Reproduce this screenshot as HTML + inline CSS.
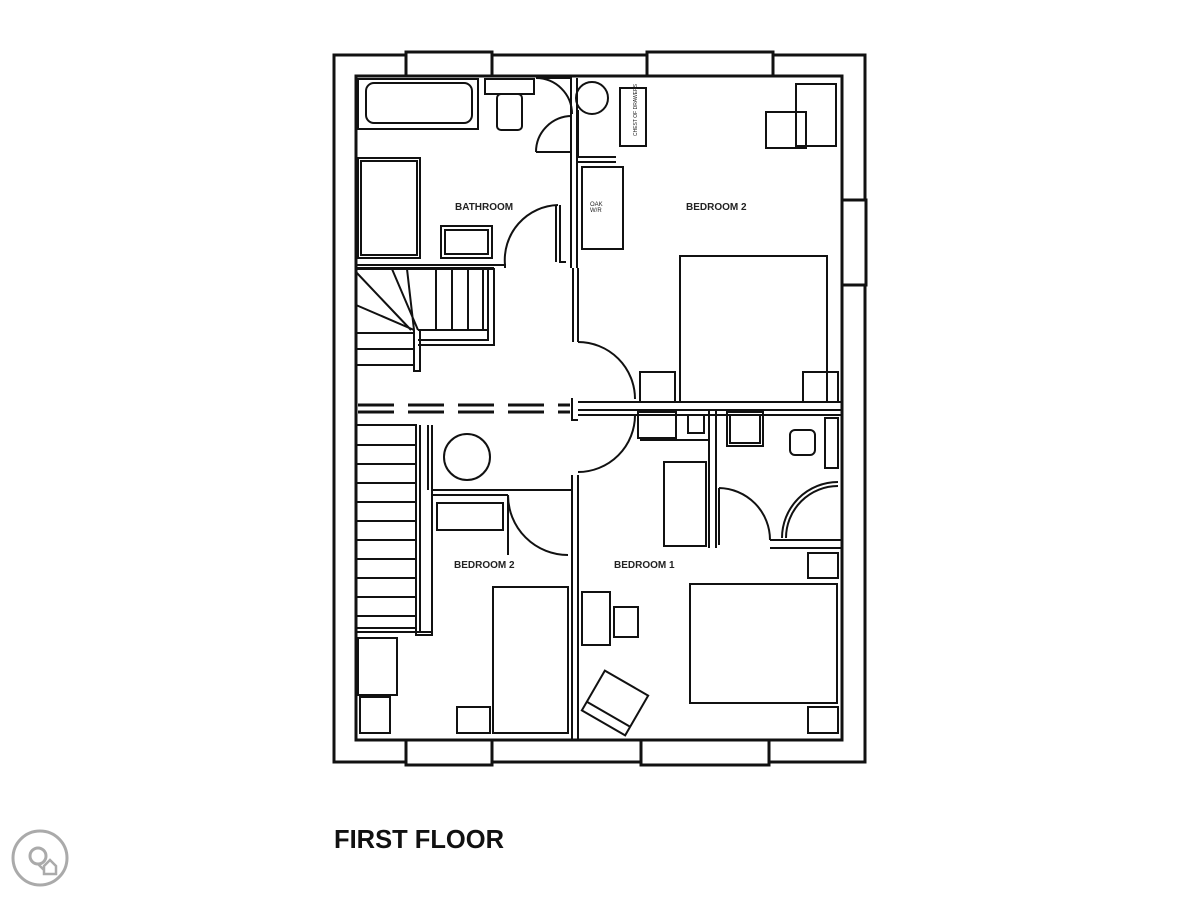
<!DOCTYPE html>
<html><head><style>body{margin:0;background:#fff}svg{display:block}</style></head><body>
<svg width="1200" height="900" viewBox="0 0 1200 900" xmlns="http://www.w3.org/2000/svg">
<rect width="1200" height="900" fill="#fff"/>
<g fill="none" stroke="#111" stroke-width="2">
<rect x="334" y="55" width="531" height="707" stroke-width="3"/>
<rect x="356" y="76" width="486" height="664" stroke-width="3"/>
<rect x="406" y="52" width="86" height="24" fill="#fff" stroke-width="3"/>
<rect x="647" y="52" width="126" height="24" fill="#fff" stroke-width="3"/>
<rect x="406" y="740" width="86" height="25" fill="#fff" stroke-width="3"/>
<rect x="641" y="740" width="128" height="25" fill="#fff" stroke-width="3"/>
<rect x="842" y="200" width="24" height="85" fill="#fff" stroke-width="3"/>
<path d="M571 78V268 M577 78V268 M573 268V342 M578 268V342"/>
<path d="M578 110V157H616 M577 157V162H616"/>
<circle cx="592" cy="98" r="16"/>
<rect x="620" y="88" width="26" height="58"/>
<path d="M536 78A36 36 0 0 1 572 114 M536 152A36 36 0 0 1 572 116 M536 152H572 M536 78H572"/>
<rect x="796" y="84" width="40" height="62"/>
<rect x="766" y="112" width="40" height="36"/>
<rect x="582" y="167" width="41" height="82"/>
<rect x="680" y="256" width="147" height="146"/>
<rect x="640" y="372" width="35" height="30"/>
<rect x="803" y="372" width="35" height="30"/>
<rect x="358" y="79" width="120" height="50"/>
<rect x="366" y="83" width="106" height="40" rx="8"/>
<rect x="485" y="79" width="49" height="15"/>
<rect x="497" y="94" width="25" height="36" rx="4"/>
<rect x="358" y="158" width="62" height="100"/><rect x="361" y="161" width="56" height="94"/>
<rect x="441" y="226" width="51" height="32"/><rect x="445" y="230" width="43" height="24"/>
<path d="M356 265H505V268 M356 268H494"/>
<path d="M560 205V262H566 M556 205V262 M505 265A55 55 0 0 1 558 205"/>
<path d="M356 269H494V345H418 M488 269V340H418 M418 330H488 M356 272L411 330 M392 269L418 330 M407 269L414 330 M356 305L414 330 M356 333H414 M356 349H414 M356 365H414 M414 330V371H420V330 M436 269V330 M452 269V330 M468 269V330 M483 269V330"/>
<path d="M358 405H570 M358 412H570" stroke-dasharray="36 14" stroke-width="3"/>
<path d="M572 398V420H578 M578 402H842 M578 410H842 M578 415H842"/>
<path d="M578 342A57 57 0 0 1 635 399"/>
<path d="M578 472A57 57 0 0 0 635 415"/>
<rect x="356" y="425" width="60" height="203"/>
<path d="M416 425V635H432V425 M420 425V632 M356 632H432 M428 425V490"/>
<path d="M356 445H416 M356 464H416 M356 483H416 M356 502H416 M356 521H416 M356 540H416 M356 559H416 M356 578H416 M356 597H416 M356 616H416"/>
<circle cx="467" cy="457" r="23"/>
<path d="M432 490H572 M432 495H508 M432 490V635"/>
<path d="M508 495A60 60 0 0 0 568 555 M508 495V555"/>
<rect x="437" y="503" width="66" height="27"/>
<rect x="493" y="587" width="75" height="146"/>
<rect x="457" y="707" width="33" height="26"/>
<rect x="358" y="638" width="39" height="57"/>
<rect x="360" y="697" width="30" height="36"/>
<path d="M572 475V740 M578 475V740"/>
<rect x="638" y="412" width="38" height="26"/>
<rect x="688" y="415" width="16" height="18"/>
<path d="M709 410V548 M716 410V548 M709 440H640"/>
<rect x="664" y="462" width="42" height="84"/>
<rect x="727" y="412" width="36" height="34"/>
<rect x="730" y="415" width="30" height="28"/>
<rect x="790" y="430" width="25" height="25" rx="5"/>
<rect x="825" y="418" width="13" height="50"/>
<path d="M770 540H842 M770 548H842"/>
<path d="M782 538A56 56 0 0 1 838 482 M786 538A52 52 0 0 1 838 486"/>
<path d="M719 488A52 52 0 0 1 770 540 M719 488V545"/>
<rect x="808" y="553" width="30" height="25"/>
<rect x="690" y="584" width="147" height="119"/>
<rect x="808" y="707" width="30" height="26"/>
<rect x="582" y="592" width="28" height="53"/>
<rect x="614" y="607" width="24" height="30"/>
<g transform="rotate(30 615 703)"><rect x="590" y="680" width="50" height="46"/><path d="M590 716H640"/></g>
</g>
<g font-family="Liberation Sans, sans-serif" font-weight="bold" fill="#222" font-size="10">
<text x="455" y="210">BATHROOM</text>
<text x="686" y="210">BEDROOM 2</text>
<text x="454" y="568">BEDROOM 2</text>
<text x="614" y="568">BEDROOM 1</text>
<text x="590" y="206" font-size="6" font-weight="normal">OAK</text>
<text x="590" y="212" font-size="6" font-weight="normal">W/R</text>
<text transform="translate(637 136) rotate(-90)" font-size="5" font-weight="normal">CHEST OF DRAWERS</text>
<text x="334" y="848" font-size="25.5" fill="#111">FIRST FLOOR</text>
</g>
<g fill="none" stroke="#aaa" stroke-width="3">
<circle cx="40" cy="858" r="27"/>
<circle cx="38" cy="856" r="8"/>
<path d="M38 864L44 870 M44 866L50 860L56 866V874H44Z" stroke-width="2.5"/>
</g>
</svg>
</body></html>
